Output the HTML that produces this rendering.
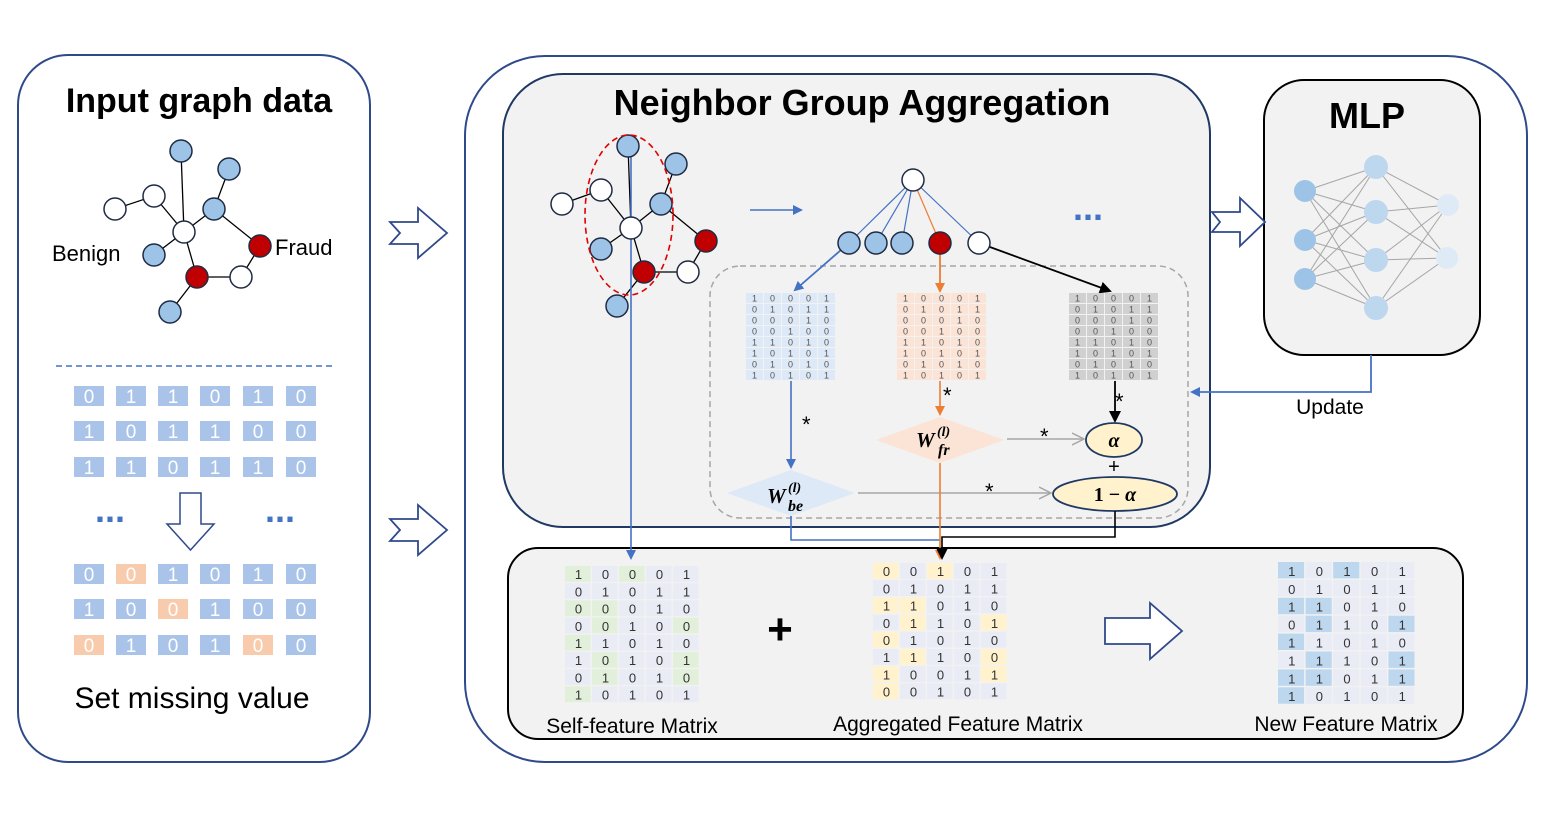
<!DOCTYPE html>
<html><head><meta charset="utf-8"><style>
html,body{margin:0;padding:0;background:#fff;}
svg{display:block;font-family:"Liberation Sans",Arial,sans-serif;}
</style></head><body>
<svg id="s" width="1544" height="816" viewBox="0 0 1544 816" xmlns="http://www.w3.org/2000/svg">
<defs>
<marker id="ab" markerWidth="10" markerHeight="10" refX="8" refY="5" orient="auto" markerUnits="userSpaceOnUse"><path d="M0,0 L10,5 L0,10 z" fill="#4472c4"/></marker>
<marker id="ao" markerWidth="10" markerHeight="10" refX="8" refY="5" orient="auto" markerUnits="userSpaceOnUse"><path d="M0,0 L10,5 L0,10 z" fill="#ed7d31"/></marker>
<marker id="ak" markerWidth="12" markerHeight="12" refX="10" refY="6" orient="auto" markerUnits="userSpaceOnUse"><path d="M0,0 L12,6 L0,12 z" fill="#000"/></marker>
<marker id="ag" markerWidth="14" markerHeight="14" refX="12" refY="7" orient="auto" markerUnits="userSpaceOnUse"><path d="M0,1 L12,7 L0,13" fill="none" stroke="#a6a6a6" stroke-width="1.5"/></marker>
</defs>
<rect x="18" y="55" width="352" height="707" rx="50" fill="#fff" stroke="#2f4a8a" stroke-width="2"/>
<text x="199" y="112" text-anchor="middle" font-size="34" font-weight="bold">Input graph data</text>
<g stroke="#000" stroke-width="1.3">
<line x1="181" y1="151" x2="184" y2="232"/><line x1="229" y1="169" x2="214" y2="209"/><line x1="214" y1="209" x2="184" y2="232"/>
<line x1="154" y1="196" x2="184" y2="232"/><line x1="115" y1="209" x2="154" y2="196"/><line x1="184" y1="232" x2="154" y2="255"/>
<line x1="184" y1="232" x2="197" y2="277"/><line x1="214" y1="209" x2="260" y2="246"/><line x1="260" y1="246" x2="241" y2="277"/>
<line x1="241" y1="277" x2="197" y2="277"/><line x1="197" y1="277" x2="170" y2="312"/>
</g>
<g stroke="#1f2a44" stroke-width="1.5">
<circle cx="181" cy="151" r="11" fill="#9dc3e6"/><circle cx="229" cy="169" r="11" fill="#9dc3e6"/><circle cx="214" cy="209" r="11" fill="#9dc3e6"/>
<circle cx="154" cy="255" r="11" fill="#9dc3e6"/><circle cx="170" cy="312" r="11" fill="#9dc3e6"/>
<circle cx="115" cy="209" r="11" fill="#fff"/><circle cx="154" cy="196" r="11" fill="#fff"/><circle cx="184" cy="232" r="11" fill="#fff"/><circle cx="241" cy="277" r="11" fill="#fff"/>
<circle cx="260" cy="246" r="11" fill="#c00000"/><circle cx="197" cy="277" r="11" fill="#c00000"/>
</g>
<text x="52" y="261" font-size="22">Benign</text>
<text x="275" y="255" font-size="22">Fraud</text>
<line x1="56" y1="366" x2="332" y2="366" stroke="#4472c4" stroke-width="1.5" stroke-dasharray="6,4"/>
<g id="leftm"></g>
<text x="110" y="522" text-anchor="middle" font-size="36" font-weight="bold" fill="#4472c4">...</text>
<text x="280" y="522" text-anchor="middle" font-size="36" font-weight="bold" fill="#4472c4">...</text>
<path d="M180,493 H201 V524 H214 L190.5,550 L167,524 H180 Z" fill="#fff" stroke="#2f4a8a" stroke-width="1.5"/>
<text x="192" y="708" text-anchor="middle" font-size="30">Set missing value</text>
<path d="M390,222 H418 V208 L447,233 L418,258 V244 H390 L400,233 Z" fill="#fff" stroke="#2f4a8a" stroke-width="1.8"/>
<path d="M390,519 H418 V505 L447,530 L418,555 V541 H390 L400,530 Z" fill="#fff" stroke="#2f4a8a" stroke-width="1.8"/>
<rect x="465" y="56" width="1062" height="706" rx="80" fill="#fff" stroke="#2f4a8a" stroke-width="2"/>
<rect x="503" y="74" width="707" height="453" rx="60" fill="#f2f2f2" stroke="#1f3864" stroke-width="2"/>
<text x="862" y="115" text-anchor="middle" font-size="36" font-weight="bold">Neighbor Group Aggregation</text>
<rect x="1264" y="80" width="216" height="275" rx="40" fill="#f2f2f2" stroke="#000" stroke-width="2"/>
<text x="1367" y="128" text-anchor="middle" font-size="36" font-weight="bold">MLP</text>
<g id="mlp"></g>
<path d="M1212,212 H1240 V198 L1265,222 L1240,246 V232 H1212 L1220,222 Z" fill="#fff" stroke="#2f4a8a" stroke-width="1.8"/>
<polyline points="1371,355 1371,392 1192,392" fill="none" stroke="#4472c4" stroke-width="1.8" marker-end="url(#ab)"/>
<text x="1330" y="414" text-anchor="middle" font-size="21">Update</text>
<rect x="508" y="548" width="955" height="191" rx="30" fill="#f2f2f2" stroke="#000" stroke-width="2"/>
<rect x="710" y="266" width="478" height="252" rx="30" fill="none" stroke="#a6a6a6" stroke-width="1.5" stroke-dasharray="6,4"/>
<g stroke="#000" stroke-width="1.3">
<line x1="628" y1="146" x2="631" y2="228"/><line x1="676" y1="164" x2="661" y2="204"/><line x1="661" y1="204" x2="631" y2="228"/>
<line x1="601" y1="190" x2="631" y2="228"/><line x1="562" y1="204" x2="601" y2="190"/><line x1="631" y1="228" x2="601" y2="249"/>
<line x1="631" y1="228" x2="644" y2="272"/><line x1="661" y1="204" x2="706" y2="241"/><line x1="706" y1="241" x2="688" y2="272"/>
<line x1="688" y1="272" x2="644" y2="272"/><line x1="644" y1="272" x2="617" y2="306"/>
</g>
<line x1="631" y1="150" x2="631" y2="558" stroke="#4472c4" stroke-width="1.6" marker-end="url(#ab)"/>
<g stroke="#1f2a44" stroke-width="1.5">
<circle cx="628" cy="146" r="11" fill="#9dc3e6"/><circle cx="676" cy="164" r="11" fill="#9dc3e6"/><circle cx="661" cy="204" r="11" fill="#9dc3e6"/>
<circle cx="601" cy="249" r="11" fill="#9dc3e6"/><circle cx="617" cy="306" r="11" fill="#9dc3e6"/>
<circle cx="562" cy="204" r="11" fill="#fff"/><circle cx="601" cy="190" r="11" fill="#fff"/><circle cx="631" cy="228" r="11" fill="#fff"/><circle cx="688" cy="272" r="11" fill="#fff"/>
<circle cx="706" cy="241" r="11" fill="#c00000"/><circle cx="644" cy="272" r="11" fill="#c00000"/>
</g>
<ellipse cx="629" cy="215" rx="44" ry="80" fill="none" stroke="#e00000" stroke-width="1.6" stroke-dasharray="6,4"/>
<line x1="750" y1="210" x2="801" y2="210" stroke="#4472c4" stroke-width="1.5" marker-end="url(#ab)"/>
<g stroke="#4472c4" stroke-width="1.2">
<line x1="913" y1="180" x2="849" y2="243"/><line x1="913" y1="180" x2="876" y2="243"/><line x1="913" y1="180" x2="902" y2="243"/>
</g>
<line x1="913" y1="180" x2="940" y2="243" stroke="#ed7d31" stroke-width="1.2"/>
<line x1="913" y1="180" x2="979" y2="243" stroke="#4472c4" stroke-width="1.2"/>
<line x1="849" y1="243" x2="795" y2="290" stroke="#4472c4" stroke-width="1.8" marker-end="url(#ab)"/>
<line x1="940" y1="243" x2="940" y2="291" stroke="#ed7d31" stroke-width="1.8" marker-end="url(#ao)"/>
<line x1="979" y1="243" x2="1110" y2="291" stroke="#000" stroke-width="1.8" marker-end="url(#ak)"/>
<g stroke="#1f2a44" stroke-width="1.5">
<circle cx="913" cy="180" r="11" fill="#fff"/>
<circle cx="849" cy="243" r="11" fill="#9dc3e6"/><circle cx="876" cy="243" r="11" fill="#9dc3e6"/><circle cx="902" cy="243" r="11" fill="#9dc3e6"/>
<circle cx="940" cy="243" r="11" fill="#c00000"/><circle cx="979" cy="243" r="11" fill="#fff"/>
</g>
<text x="1088" y="220" text-anchor="middle" font-size="36" font-weight="bold" fill="#4472c4">...</text>
<g id="smallm"></g>
<line x1="791" y1="381" x2="791" y2="467" stroke="#4472c4" stroke-width="1.6" marker-end="url(#ab)"/>
<text x="802" y="432" font-size="22">*</text>
<line x1="940" y1="381" x2="940" y2="414" stroke="#ed7d31" stroke-width="1.6" marker-end="url(#ao)"/>
<text x="943" y="403" font-size="22">*</text>
<line x1="1115" y1="381" x2="1115" y2="421" stroke="#000" stroke-width="1.8" marker-end="url(#ak)"/>
<text x="1115" y="409" font-size="22">*</text>
<polygon points="727,493 791,470 855,493 791,516" fill="#dde9f6"/>
<g font-family="Liberation Serif,serif" font-weight="bold" font-style="italic">
<text x="767" y="503" font-size="21">W</text>
<text x="788" y="492" font-size="14">(l)</text>
<text x="788" y="511" font-size="16">be</text>
</g>
<polygon points="876,440 940,417 1004,440 940,463" fill="#fbe3d5"/>
<g font-family="Liberation Serif,serif" font-weight="bold" font-style="italic">
<text x="916" y="447" font-size="21">W</text>
<text x="937" y="436" font-size="14">(l)</text>
<text x="938" y="455" font-size="16">fr</text>
</g>
<line x1="1007" y1="439" x2="1084" y2="439" stroke="#a6a6a6" stroke-width="1.5" marker-end="url(#ag)"/>
<text x="1040" y="444" font-size="22">*</text>
<line x1="858" y1="493" x2="1051" y2="493" stroke="#a6a6a6" stroke-width="1.5" marker-end="url(#ag)"/>
<text x="985" y="499" font-size="22">*</text>
<ellipse cx="1114" cy="440" rx="28" ry="17" fill="#fff2cc" stroke="#1f3864" stroke-width="1.8"/>
<text x="1114" y="447" text-anchor="middle" font-size="20" font-weight="bold" font-style="italic" font-family="Liberation Serif,serif">α</text>
<text x="1114" y="473" text-anchor="middle" font-size="20">+</text>
<ellipse cx="1115" cy="494" rx="62" ry="17" fill="#fff2cc" stroke="#1f3864" stroke-width="1.8"/>
<text x="1115" y="501" text-anchor="middle" font-size="20" font-weight="bold" font-family="Liberation Serif,serif">1 − <tspan font-style="italic">α</tspan></text>
<polyline points="791,516 791,540 940,540" fill="none" stroke="#4472c4" stroke-width="1.6"/>
<line x1="940" y1="463" x2="940" y2="558" stroke="#ed7d31" stroke-width="1.6" marker-end="url(#ao)"/>
<polyline points="1115,511 1115,537 942,537 942,558" fill="none" stroke="#000" stroke-width="1.6" marker-end="url(#ak)"/>
<g id="bigm"></g>
<text x="780" y="644" text-anchor="middle" font-size="44" font-weight="bold">+</text>
<path d="M1105,618 H1150 V603 L1182,631 L1150,659 V644 H1105 Z" fill="#fff" stroke="#2f4a8a" stroke-width="1.8"/>
<text x="632" y="733" text-anchor="middle" font-size="21">Self-feature Matrix</text>
<text x="958" y="731" text-anchor="middle" font-size="21">Aggregated Feature Matrix</text>
<text x="1346" y="731" text-anchor="middle" font-size="21">New Feature Matrix</text>
</svg>
<script>
var NS="http://www.w3.org/2000/svg";
function el(p,t,a,txt){var e=document.createElementNS(NS,t);for(var k in a)e.setAttribute(k,a[k]);if(txt!==undefined)e.textContent=txt;p.appendChild(e);return e;}
var lm=document.getElementById("leftm");
var xs=[74,116,158,200,243,286];
var rows=[[386,"011010",""],[421,"101100",""],[457,"110110",""],[564,"001010","010000"],[599,"100100","001000"],[635,"010100","100010"]];
rows.forEach(function(r){for(var i=0;i<6;i++){var o=r[2]&&r[2][i]=="1";el(lm,"rect",{x:xs[i],y:r[0],width:30,height:20,fill:o?"#f8cbad":"#a9c4e8"});el(lm,"text",{x:xs[i]+15,y:r[0]+17,"text-anchor":"middle","font-size":19,fill:"#fff"},r[1][i]);}});
var m=document.getElementById("mlp");
var L1=[[1305,191],[1305,240],[1305,279]],L2=[[1376,167],[1376,212],[1376,260],[1376,308]],L3=[[1448,205],[1447,258]];
L1.forEach(function(a){L2.forEach(function(b){el(m,"line",{x1:a[0],y1:a[1],x2:b[0],y2:b[1],stroke:"#a6a6a6","stroke-width":1});});});
L2.forEach(function(a){L3.forEach(function(b){el(m,"line",{x1:a[0],y1:a[1],x2:b[0],y2:b[1],stroke:"#a6a6a6","stroke-width":1});});});
L1.forEach(function(a){el(m,"circle",{cx:a[0],cy:a[1],r:11,fill:"#9dc3e6"});});
L2.forEach(function(a){el(m,"circle",{cx:a[0],cy:a[1],r:12,fill:"#bdd7ee"});});
L3.forEach(function(a){el(m,"circle",{cx:a[0],cy:a[1],r:11,fill:"#deebf7"});});
var D=["10001","01011","00010","00100","11010","10101","01010","10101"];
var sm=document.getElementById("smallm");
[[746,"#dde9f6"],[897,"#fbe3d5"],[1069,"#d0d0d0"]].forEach(function(g){for(var r=0;r<8;r++)for(var c=0;c<5;c++){el(sm,"rect",{x:g[0]+c*18,y:293+r*11,width:17,height:10,fill:g[1]});el(sm,"text",{x:g[0]+c*18+8.5,y:293+r*11+8.5,"text-anchor":"middle","font-size":9,fill:"#555"},D[r][c]);}});
function big(x0,y0,cw,rh,data,hl,hc){var g=document.getElementById("bigm");for(var r=0;r<8;r++)for(var c=0;c<5;c++){var h=hl[r].indexOf(c)>=0;el(g,"rect",{x:x0+c*cw,y:y0+r*rh,width:cw-1.5,height:rh-1.5,fill:h?hc:"#e9ebf5"});el(g,"text",{x:x0+c*cw+cw/2,y:y0+r*rh+rh-4,"text-anchor":"middle","font-size":13,fill:"#333"},data[r][c]);}}
big(565,566,27,17.2,D,[[0,2],[],[0,1],[1,4],[0],[1,4],[1,4],[0]],"#e2efda");
big(873,563,27,17.2,["00101","01011","11010","01101","01010","11100","10011","00101"],[[0,2],[],[0,1],[1,4],[0],[1,4],[0,4],[0]],"#fff2cc");
big(1278,562,27.6,17.9,["10101","01011","11010","01101","11010","11101","11011","10101"],[[0,2],[],[0,1],[1,4],[0],[1,4],[0,1,4],[0]],"#bdd7ee");
</script>
</body></html>
